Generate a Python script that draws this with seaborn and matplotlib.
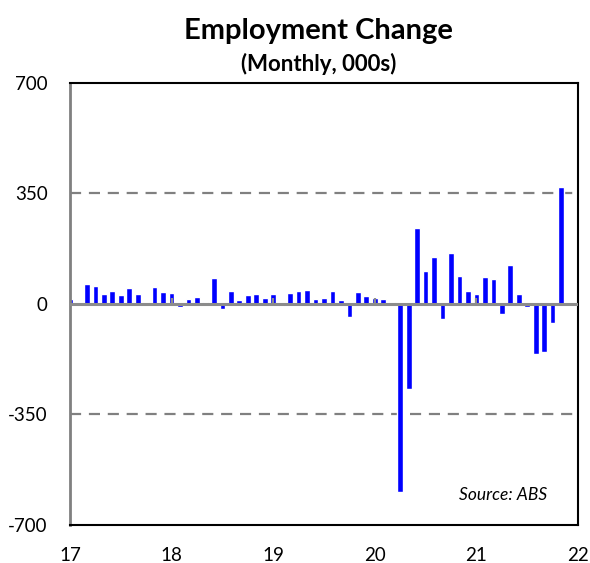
import pandas as pd
import matplotlib
matplotlib.use('Agg')
import matplotlib.pyplot as plt
import seaborn as sns

# monthly employment change, 000s, Jan 2017 - Nov 2021
months = pd.date_range('2017-01-01', periods=59, freq='MS').strftime('%Y-%m').tolist()
change = [17, 4, 63, 57, 33, 41, 28, 52, 32, 7, 54, 38,
          35, -8, 16, 22, 7, 82, -15, 41, 13, 30, 33, 20,
          33, -5, 35, 41, 44, 15, 20, 40, 13, -40, 37, 25,
          18, 15, 5, -595, -268, 241, 104, 150, -49, 163, 90, 40,
          31, 84, 78, -32, 122, 32, -8, -157, -152, -60, 370]
year_labels = ['17', '18', '19', '20', '21', '22']
y_ticks = [-700, -350, 0, 350, 700]

df = pd.DataFrame({'month': months, 'change': change})

sns.set_theme(style='white')
plt.rcParams['font.family'] = ['Lato', 'DejaVu Sans']
plt.rcParams['text.color'] = 'black'

fig = plt.figure(figsize=(5.9, 5.63), dpi=100)
ax = fig.add_axes([0.1186, 0.0675, 0.8611, 0.7851])

sns.barplot(data=df, x='month', y='change', color='#0000FF', saturation=1,
            width=0.67, ax=ax, zorder=2)

ax.set_xlim(0, 60)
ax.set_ylim(-700, 700)
ax.set_xticks([0, 12, 24, 36, 48, 60])
ax.set_xticklabels(year_labels)
ax.set_yticks(y_ticks)
ax.set_yticklabels([str(t) for t in y_ticks])
ax.tick_params(axis='both', length=0, labelsize=13.5, colors='black')
ax.tick_params(axis='y', pad=16)
ax.tick_params(axis='x', pad=16)
ax.set_xlabel('')
ax.set_ylabel('')

# dashed gridlines and zero line
for yv in [-350, 350]:
    ax.axhline(yv, color='#808080', lw=1.6, ls=(0, (5, 3.5)), zorder=1)
ax.axhline(0, color='#8c8c8c', lw=2.2, zorder=3)
# small year ticks on the zero line
ax.vlines([12, 24, 36, 48], 0, 18, color='#8c8c8c', lw=1.6, zorder=3)

for side in ['top', 'right', 'bottom']:
    ax.spines[side].set_color('black')
    ax.spines[side].set_linewidth(1.5)
ax.spines['left'].set_color('#808080')
ax.spines['left'].set_linewidth(2.0)

ax.text(0.94, 0.068, 'Source: ABS', transform=ax.transAxes, ha='right',
        va='center', fontsize=12.5, style='italic', color='black')

fig.text(0.54, 0.945, 'Employment Change', ha='center', va='center',
         fontsize=21, fontweight='bold', color='black')
fig.text(0.54, 0.886, '(Monthly, 000s)', ha='center', va='center',
         fontsize=16, fontweight='bold', color='black')

fig.savefig('out.png', dpi=100)
